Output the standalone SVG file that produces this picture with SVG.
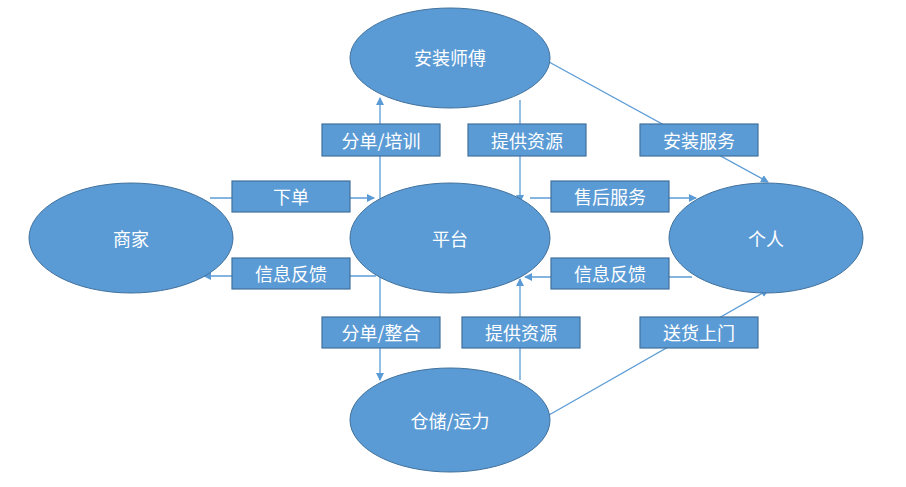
<svg xmlns="http://www.w3.org/2000/svg" width="906" height="487" viewBox="0 0 906 487">
<style>
.n{fill:#5b9bd5;stroke:#41719c;stroke-width:1}
.b{fill:#5b9bd5;stroke:#41719c;stroke-width:1.2}
.t{font-family:"Noto Sans CJK SC","Noto Sans",sans-serif;font-size:18px;fill:#fff;text-anchor:middle;dominant-baseline:central}
.c{stroke:#5b9bd5;stroke-width:1.3;fill:none;marker-end:url(#a)}
</style>
<defs><marker id="a" markerWidth="8" markerHeight="8" refX="7" refY="4" orient="auto" markerUnits="userSpaceOnUse"><path d="M0,0 L8,4 L0,8 Z" fill="#5b9bd5"/></marker></defs>
<rect width="906" height="487" fill="#fff"/>
<g id="connectors">
<line class="c" x1="210" y1="198" x2="374" y2="198"/>
<line class="c" x1="376" y1="276" x2="204" y2="276"/>
<line class="c" x1="530" y1="198" x2="696" y2="198"/>
<line class="c" x1="692" y1="277" x2="525" y2="277"/>
<line class="c" x1="380" y1="238" x2="380" y2="98"/>
<line class="c" x1="380" y1="238" x2="380" y2="380"/>
<line class="c" x1="520" y1="100" x2="520" y2="202"/>
<line class="c" x1="520" y1="380" x2="520" y2="279"/>
<line class="c" x1="549" y1="62" x2="768" y2="182"/>
<line class="c" x1="549" y1="415" x2="768" y2="290"/>
</g>
<g id="anzhuang"><ellipse class="n" cx="450" cy="58" rx="100" ry="50"/><text class="t" x="450" y="57">安装师傅</text></g>
<g id="shangjia"><ellipse class="n" cx="131" cy="238" rx="102" ry="55"/><text class="t" x="131" y="238">商家</text></g>
<g id="pingtai"><ellipse class="n" cx="450" cy="238" rx="100" ry="55"/><text class="t" x="450" y="238">平台</text></g>
<g id="geren"><ellipse class="n" cx="766" cy="238" rx="97" ry="55"/><text class="t" x="766" y="238">个人</text></g>
<g id="cangchu"><ellipse class="n" cx="450" cy="420" rx="100" ry="52"/><text class="t" x="450" y="420">仓储/运力</text></g>
<g id="labels">
<rect class="b" x="322" y="124" width="118" height="32"/><text class="t" x="381" y="140">分单/培训</text>
<rect class="b" x="468" y="124" width="118" height="32"/><text class="t" x="527" y="140">提供资源</text>
<rect class="b" x="640" y="124" width="118" height="32"/><text class="t" x="699" y="140">安装服务</text>
<rect class="b" x="232" y="181" width="118" height="31"/><text class="t" x="291" y="196">下单</text>
<rect class="b" x="551" y="181" width="118" height="31"/><text class="t" x="610" y="196">售后服务</text>
<rect class="b" x="232" y="258" width="118" height="31"/><text class="t" x="291" y="273">信息反馈</text>
<rect class="b" x="551" y="258" width="118" height="31"/><text class="t" x="610" y="273">信息反馈</text>
<rect class="b" x="322" y="317" width="118" height="31"/><text class="t" x="381" y="332">分单/整合</text>
<rect class="b" x="462" y="317" width="118" height="31"/><text class="t" x="521" y="332">提供资源</text>
<rect class="b" x="640" y="317" width="118" height="31"/><text class="t" x="699" y="332">送货上门</text>
</g>
</svg>
